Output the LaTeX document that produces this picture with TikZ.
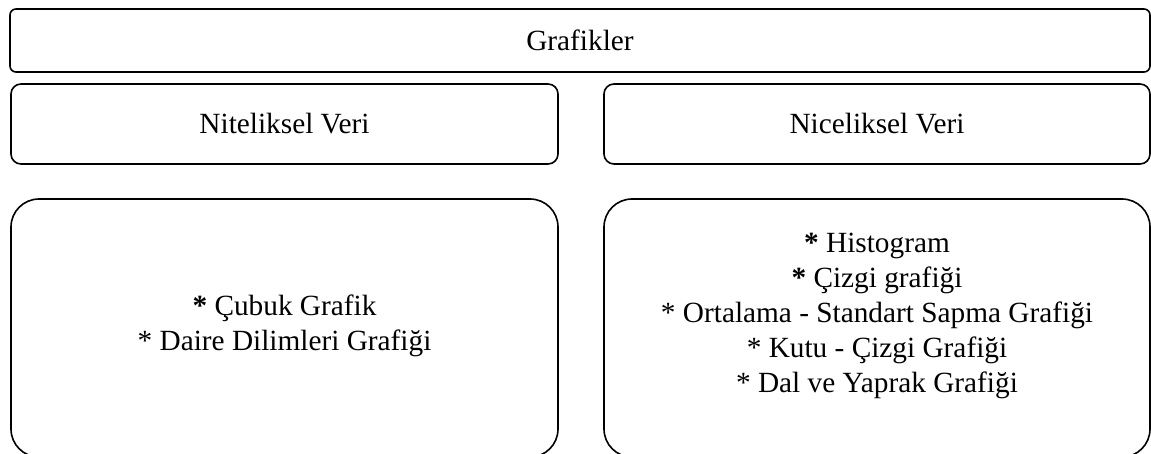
\documentclass[tikz,border=0pt]{standalone}
\usepackage{fontspec}
\setmainfont{Liberation Serif}
\begin{document}
\begin{tikzpicture}[x=1pt,y=-1pt,
  panel/.style={draw=black, line width=1.6pt, rectangle, inner sep=0pt},
  txt/.style={font=\fontsize{29.3}{35}\selectfont, align=center, inner sep=0pt}]
\clip (0,0) rectangle (1151,454);
\useasboundingbox (0,0) rectangle (1151,454);

% header
\node[panel, rounded corners=6pt, minimum width=1140pt, minimum height=63pt] (top) at (580,40.5) {};
\node[txt] (toptxt) at (top.center) {Grafikler};

% data type headers
\node[panel, rounded corners=10pt, minimum width=547pt, minimum height=80pt] (qual) at (284.5,124) {};
\node[txt] (qualtxt) at (qual.center) {Niteliksel Veri};
\node[panel, rounded corners=10pt, minimum width=546pt, minimum height=80pt] (quant) at (877,124) {};
\node[txt] (quanttxt) at (quant.center) {Niceliksel Veri};

% lists of chart types
\node[panel, rounded corners=28pt, minimum width=547pt, minimum height=258pt] (qlist) at (284.5,328) {};
\node[txt] (qlisttxt) at (284.5,325.5) {\textbf{*} Çubuk Grafik\\* Daire Dilimleri Grafiği};
\node[panel, rounded corners=28pt, minimum width=546pt, minimum height=258pt] (nlist) at (877,328) {};
\node[txt] (nlisttxt) at (877,315.5) {\textbf{*} Histogram\\\textbf{*} Çizgi grafiği\\* Ortalama - Standart Sapma Grafiği\\* Kutu - Çizgi Grafiği\\* Dal ve Yaprak Grafiği};
\end{tikzpicture}
\end{document}
